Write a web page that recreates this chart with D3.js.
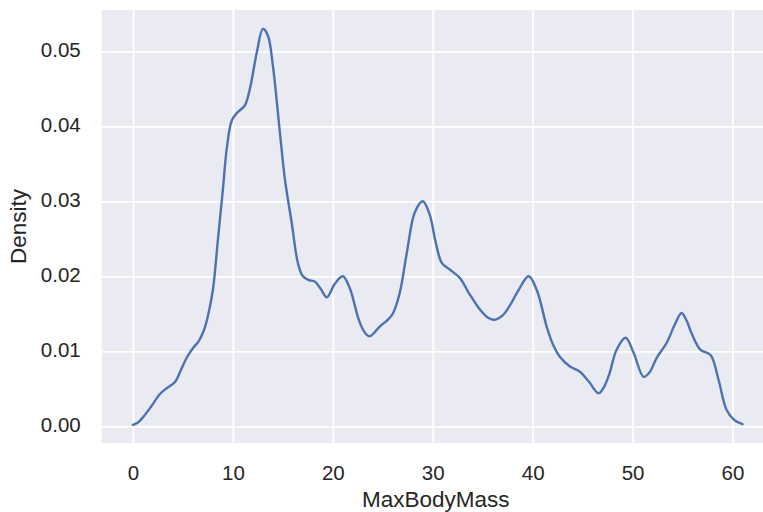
<!DOCTYPE html>
<html>
<head>
<meta charset="utf-8">
<script src="https://cdn.jsdelivr.net/npm/d3@7"></script>
<style>
  html, body { margin: 0; padding: 0; background: #ffffff; }
  svg { display: block; }
</style>
</head>
<body>
<svg id="chart" width="763" height="512"></svg>
<script>
// ---- data ----
const massValues = [0, 0.5, 1.0, 1.8, 2.7, 3.4, 4.2, 4.8, 5.4, 6.0, 6.6, 7.1, 7.5, 8.0, 8.5, 9.0, 9.4, 9.9,
  10.5, 11.2, 11.7, 12.4, 13.0, 13.5, 14.0, 14.7, 15.2, 15.9, 16.5, 17.0, 17.6, 18.2, 18.8, 19.4,
  20.2, 21.0, 21.7, 22.6, 23.2, 23.7, 24.7, 25.5, 26.0, 26.7, 27.4, 28.2, 29.0, 29.7, 30.3, 30.9,
  31.7, 32.7, 33.6, 34.7, 35.5, 36.1, 37.0, 37.8, 38.6, 39.6, 40.4, 41.4, 42.0, 42.7, 43.7, 44.7,
  45.6, 46.6, 47.2, 47.7, 48.4, 49.3, 50.1, 51.1, 51.7, 52.4, 53.4, 54.2, 54.9, 55.4, 55.9, 56.8,
  57.8, 58.6, 59.4, 60.2, 61.0];
const densityValues = [0.0002, 0.0005, 0.0012, 0.0026, 0.0043, 0.0051, 0.0059, 0.0075, 0.0092, 0.0104, 0.0114, 0.0128, 0.0147, 0.0182, 0.0249, 0.0316, 0.0372, 0.0408,
  0.0419, 0.0428, 0.0450, 0.0499, 0.0530, 0.0521, 0.0481, 0.0392, 0.0330, 0.0270, 0.0218, 0.0200, 0.0195, 0.0193, 0.0183, 0.0172,
  0.0190, 0.0200, 0.0184, 0.0142, 0.0125, 0.0120, 0.0133, 0.0142, 0.0150, 0.0178, 0.0231, 0.0285, 0.0300, 0.0282, 0.0245, 0.0218,
  0.0209, 0.0198, 0.0178, 0.0156, 0.0145, 0.0142, 0.0148, 0.0163, 0.0182, 0.0200, 0.0182, 0.0133, 0.0110, 0.0093, 0.0080, 0.0073,
  0.0060, 0.0044, 0.0054, 0.0071, 0.0102, 0.0118, 0.0098, 0.0066, 0.0072, 0.0091, 0.0111, 0.0135, 0.0151, 0.0141, 0.0124, 0.0102,
  0.0095, 0.0062, 0.0022, 0.0008, 0.0003];
const xTicks = [0, 10, 20, 30, 40, 50, 60];
const yTicks = [0.00, 0.01, 0.02, 0.03, 0.04, 0.05];
const xLabel = "MaxBodyMass";
const yLabel = "Density";

// ---- layout ----
const svg = d3.select("#chart");
const plot = { left: 101.7, top: 10, right: 770, bottom: 443 };
const font = "'Liberation Sans', Arial, sans-serif";

const x = d3.scaleLinear().domain([-3.13, 63.75]).range([plot.left, plot.right]);
const y = d3.scaleLinear().domain([-0.00223, 0.05551]).range([plot.bottom, plot.top]);

// background
svg.append("rect")
  .attr("x", plot.left).attr("y", plot.top)
  .attr("width", plot.right - plot.left).attr("height", plot.bottom - plot.top)
  .attr("fill", "#EAEAF2");

// grid via axes
const gx = svg.append("g")
  .attr("transform", `translate(0,${plot.bottom})`)
  .call(d3.axisBottom(x).tickValues(xTicks).tickSize(-(plot.bottom - plot.top)).tickPadding(22).tickFormat(d3.format("d")));
const gy = svg.append("g")
  .attr("transform", `translate(${plot.left},0)`)
  .call(d3.axisLeft(y).tickValues(yTicks).tickSize(-(plot.right - plot.left)).tickPadding(21).tickFormat(d3.format(".2f")));

[gx, gy].forEach(g => {
  g.select(".domain").remove();
  g.selectAll(".tick line").attr("stroke", "#ffffff").attr("stroke-width", 1.7);
  g.selectAll(".tick text").attr("fill", "#262626").style("font-family", font).style("font-size", "20.5px");
});
gy.selectAll(".tick text").attr("dy", "0.25em");
gx.selectAll(".tick text").attr("dy", "0.71em");

// density line
const pts = massValues.map((m, i) => [m, densityValues[i]]);
const line = d3.line().x(d => x(d[0])).y(d => y(d[1])).curve(d3.curveCatmullRom.alpha(0.5));
svg.append("path")
  .datum(pts)
  .attr("d", line)
  .attr("fill", "none")
  .attr("stroke", "#4C72B0")
  .attr("stroke-width", 2.4)
  .attr("stroke-linejoin", "round")
  .attr("stroke-linecap", "round");

// axis labels
svg.append("text")
  .attr("x", (plot.left + plot.right) / 2).attr("y", 506.5)
  .attr("text-anchor", "middle")
  .attr("fill", "#262626")
  .style("font-family", font).style("font-size", "22.5px")
  .text(xLabel);
svg.append("text")
  .attr("transform", `translate(26,${(plot.top + plot.bottom) / 2}) rotate(-90)`)
  .attr("text-anchor", "middle")
  .attr("fill", "#262626")
  .style("font-family", font).style("font-size", "22.5px")
  .text(yLabel);
</script>
</body>
</html>
